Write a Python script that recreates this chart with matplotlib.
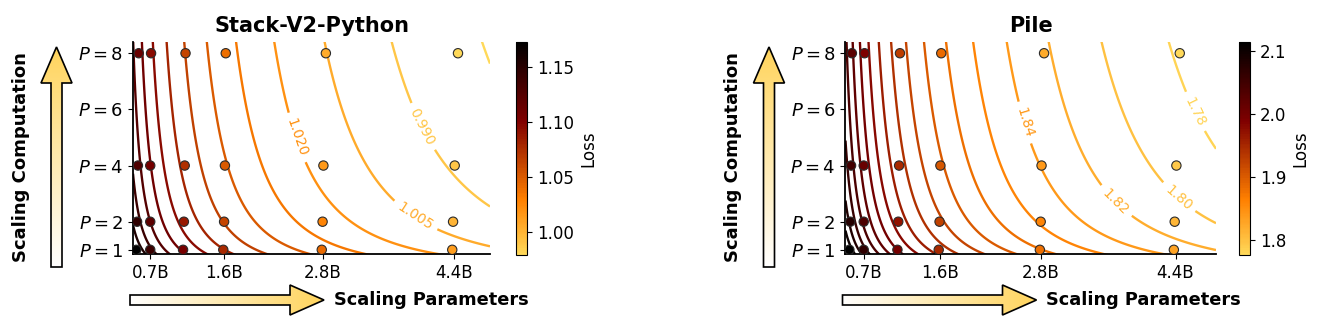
import numpy as np
import matplotlib
matplotlib.use("Agg")
import matplotlib.pyplot as plt
from matplotlib.colors import LinearSegmentedColormap, Normalize
from matplotlib.patches import Polygon

# ---- data -----------------------------------------------------------------
P_VALUES = [1, 2, 4, 8]
# real parameter counts (B) of each run; they grow a little with P
PARAMS_B = [
    [0.53, 0.70, 1.10, 1.59, 2.79, 4.38],   # P=1
    [0.54, 0.70, 1.11, 1.60, 2.80, 4.39],   # P=2
    [0.55, 0.70, 1.12, 1.61, 2.81, 4.41],   # P=4
    [0.56, 0.71, 1.13, 1.62, 2.84, 4.45],   # P=8
]
X_TICKS = [0.7, 1.6, 2.8, 4.4]
X_TICKLABELS = ["0.7B", "1.6B", "2.8B", "4.4B"]
Y_TICKS = [1, 2, 4, 6, 8]
Y_TICKLABELS = [r"$P=1$", r"$P=2$", r"$P=4$", r"$P=6$", r"$P=8$"]

STACK_LOSS = [
    [1.173, 1.139, 1.105, 1.078, 1.041, 1.013],
    [1.146, 1.121, 1.087, 1.062, 1.027, 1.000],
    [1.128, 1.107, 1.074, 1.050, 1.015, 0.989],
    [1.114, 1.095, 1.063, 1.039, 1.005, 0.979],
]
PILE_LOSS = [
    [2.114, 2.066, 2.000, 1.950, 1.881, 1.831],
    [2.076, 2.036, 1.971, 1.924, 1.858, 1.810],
    [2.047, 2.012, 1.948, 1.903, 1.839, 1.793],
    [2.024, 1.990, 1.929, 1.885, 1.823, 1.776],
]

# fitted law  L = E + B * (N * (k ln P + 1)) ** -alpha   (E, B, alpha, k)
STACK_FIT = (0.60, 0.5151, 0.1485, 0.37)
PILE_FIT = (1.30, 0.7136, 0.20, 0.32)

STACK_LEVELS = [0.975, 0.990, 1.005, 1.020, 1.035, 1.050, 1.065, 1.080,
                1.095, 1.110, 1.125, 1.140, 1.155, 1.170]
PILE_LEVELS = [1.78, 1.80, 1.82, 1.84, 1.86, 1.88, 1.90, 1.92, 1.94,
               1.96, 1.98, 2.00, 2.02, 2.04, 2.06, 2.08, 2.10]

W, H = 1326, 318
CMAP = LinearSegmentedColormap.from_list(
    "loss", plt.get_cmap("afmhot")(np.linspace(0.675, 0.0, 256)))
ARROW_CMAP = LinearSegmentedColormap.from_list("arrow", ["#FFFFFF", "#FFD45C"])


def grad_arrow(ov, tail, tip, shaft_w, head_w, head_len):
    tail = np.asarray(tail, float)
    tip = np.asarray(tip, float)
    d = tip - tail
    u = d / np.hypot(*d)
    n = np.array([-u[1], u[0]])
    base = tip - u * head_len
    pts = [tail + n * shaft_w / 2, base + n * shaft_w / 2, base + n * head_w / 2,
           tip, base - n * head_w / 2, base - n * shaft_w / 2, tail - n * shaft_w / 2]
    poly = Polygon(pts, closed=True, facecolor="none", edgecolor="black",
                   lw=1.2, zorder=3, joinstyle="miter")
    ov.add_patch(poly)
    g = np.linspace(0, 1, 256)
    if abs(u[0]) > abs(u[1]):          # horizontal
        img = g[None, :]
        ext = (tail[0], tip[0], tail[1] - head_w / 2, tail[1] + head_w / 2)
    else:                               # vertical
        img = g[:, None]
        ext = (tail[0] - head_w / 2, tail[0] + head_w / 2, tail[1], tip[1])
    im = ov.imshow(img, cmap=ARROW_CMAP, extent=ext, origin="lower",
                   aspect="auto", zorder=2, interpolation="bilinear")
    im.set_clip_path(poly)


def panel(fig, ov, ax, cax, title, loss, fit, levels, lab_pos, xlim, fmt):
    loss = np.asarray(loss)
    params = np.asarray(PARAMS_B)
    pgrid = np.repeat(np.asarray(P_VALUES, float)[:, None], params.shape[1], axis=1)
    norm = Normalize(loss.min(), loss.max())

    E, B, alpha, k = fit
    nn, gp = np.meshgrid(np.linspace(xlim[0], xlim[1], 500), np.linspace(0.8, 8.5, 500))
    zz = E + B * (nn * (k * np.log(gp) + 1)) ** (-alpha)
    cs = ax.contour(nn, gp, zz, levels=levels, cmap=CMAP, norm=norm, linewidths=1.7)
    ax.clabel(cs, manual=lab_pos, fmt=fmt, fontsize=10,
              inline=True, inline_spacing=6)

    sc = ax.scatter(params.ravel(), pgrid.ravel(), c=loss.ravel(), cmap=CMAP,
                    norm=norm, s=45, edgecolors="#2b2b2b", linewidths=0.8, zorder=4)
    cb = fig.colorbar(sc, cax=cax)
    cb.set_label("Loss", fontsize=12)
    cb.ax.tick_params(labelsize=12)
    cb.outline.set_linewidth(0.8)

    ax.set_xlim(*xlim)
    ax.set_ylim(0.85, 8.4)
    ax.set_xticks(X_TICKS)
    ax.set_xticklabels(X_TICKLABELS)
    ax.set_yticks(Y_TICKS)
    ax.set_yticklabels(Y_TICKLABELS)
    ax.tick_params(axis="x", labelsize=12)
    ax.tick_params(axis="y", labelsize=13)
    for sp in ("top", "right"):
        ax.spines[sp].set_visible(False)
    for sp in ("left", "bottom"):
        ax.spines[sp].set_linewidth(1.3)
    ax.set_title(title, fontsize=15, fontweight="bold", pad=7)

    # decorative arrows / labels outside the axes (pixel coords)
    xs = ax.get_position().x0 * W
    grad_arrow(ov, (xs - 76.5, 267), (xs - 76.5, 47), 11, 31, 36)
    ov.text(xs - 112, 157, "Scaling Computation", rotation=90, ha="center",
            va="center", fontsize=13, fontweight="bold")
    grad_arrow(ov, (xs - 3, 300), (xs + 191, 300), 10, 30, 34)
    ov.text(xs + 201, 300, "Scaling Parameters", ha="left", va="center",
            fontsize=12.8, fontweight="bold")


fig = plt.figure(figsize=(W / 100, H / 100), dpi=100)
ov = fig.add_axes([0, 0, 1, 1], zorder=-1)
ov.set_xlim(0, W)
ov.set_ylim(H, 0)
ov.set_autoscale_on(False)
ov.axis("off")

ax1 = fig.add_axes([133 / W, 1 - 254 / H, (490 - 133) / W, (254 - 42) / H])
cax1 = fig.add_axes([516 / W, 1 - 255 / H, 11 / W, (255 - 42) / H])
ax2 = fig.add_axes([845.5 / W, 1 - 254 / H, (1216 - 845.5) / W, (254 - 42) / H])
cax2 = fig.add_axes([1239 / W, 1 - 255 / H, 11 / W, (255 - 42) / H])

panel(fig, ov, ax1, cax1, "Stack-V2-Python", STACK_LOSS, STACK_FIT, STACK_LEVELS,
      [(2.47, 4.98), (3.90, 2.07), (3.99, 5.34)], (0.49, 4.84), "%.3f")
panel(fig, ov, ax2, cax2, "Pile", PILE_LOSS, PILE_FIT, PILE_LEVELS,
      [(2.61, 5.53), (3.67, 2.66), (4.43, 2.84), (4.61, 5.89)], (0.484, 4.88), "%.2f")

ov.set_xlim(0, W)
ov.set_ylim(H, 0)
fig.savefig("out.png", dpi=100)
